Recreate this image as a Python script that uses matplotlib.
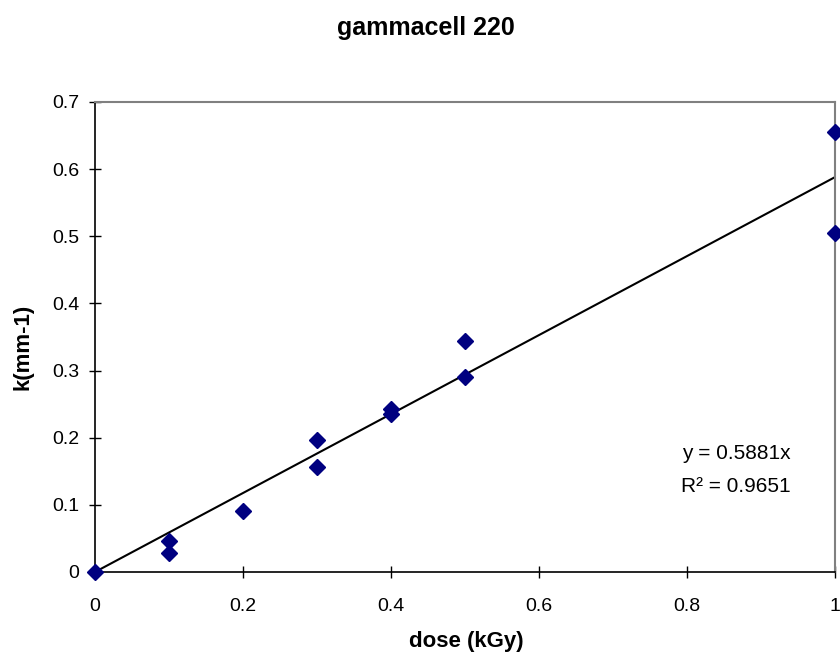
import matplotlib
matplotlib.use("Agg")
import matplotlib.pyplot as plt
import numpy as np

# data
dose = [0, 0.1, 0.1, 0.2, 0.3, 0.3, 0.4, 0.4, 0.5, 0.5, 1.0, 1.0]
k    = [0, 0.046, 0.028, 0.091, 0.197, 0.156, 0.243, 0.235, 0.344, 0.291, 0.656, 0.505]
slope = 0.5881
r2    = 0.9651

xticks = [0, 0.2, 0.4, 0.6, 0.8, 1]
yticks = [0, 0.1, 0.2, 0.3, 0.4, 0.5, 0.6, 0.7]

plt.rcParams["font.family"] = ["Liberation Sans", "DejaVu Sans"]

fig = plt.figure(figsize=(8.4, 6.57), dpi=100, facecolor="white")
ax = fig.add_axes([0.1131, 0.1294, 0.8810, 0.7154])

# trendline through origin
xl = np.array([0, 1.0])
ax.plot(xl, slope * xl, color="black", lw=1.5, zorder=2)
ax.plot(dose, k, linestyle="none", marker="D", ms=8, color="#000080",
        clip_on=False, zorder=3)

ax.set_xlim(0, 1)
ax.set_ylim(0, 0.7)
ax.set_xticks(xticks)
ax.set_xticklabels(["0", "0.2", "0.4", "0.6", "0.8", "1"])
ax.set_yticks(yticks)
ax.set_yticklabels(["0", "0.1", "0.2", "0.3", "0.4", "0.5", "0.6", "0.7"])
ax.tick_params(direction="inout", length=9, width=1, labelsize=14,
               colors="black")
ax.tick_params(axis="x", pad=14)
ax.tick_params(axis="y", pad=7)

for sp in ["left", "bottom"]:
    ax.spines[sp].set_color("black")
    ax.spines[sp].set_linewidth(1.2)
for sp in ["top", "right"]:
    ax.spines[sp].set_color("#808080")
    ax.spines[sp].set_linewidth(1.5)

fig.text(0.555, 0.023, "dose (kGy)", ha="center", va="center",
         fontsize=16, fontweight="bold")
fig.text(0.027, 0.472, "k(mm-1)", ha="center", va="center", rotation=90,
         fontsize=16, fontweight="bold")
fig.text(0.507, 0.957, "gammacell 220", ha="center", va="center",
         fontsize=18, fontweight="bold")

ax.text(0.866, 0.253, f"y = {slope}x", transform=ax.transAxes,
        ha="center", va="center", fontsize=15)
ax.text(0.866, 0.182, f"R² = {r2}", transform=ax.transAxes,
        ha="center", va="center", fontsize=15)

fig.savefig("out.png", dpi=100)
